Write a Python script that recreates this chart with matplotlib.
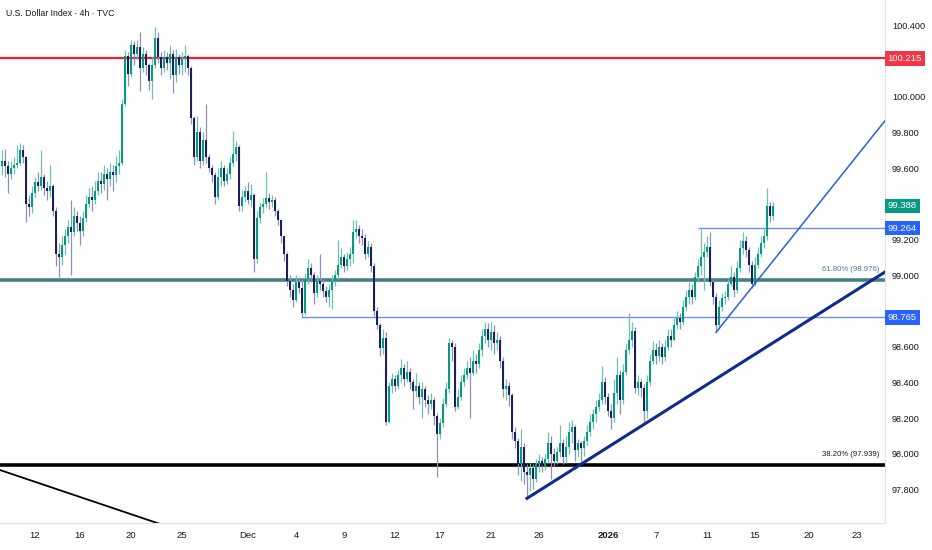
import matplotlib
matplotlib.use('Agg')
import matplotlib.pyplot as plt
import matplotlib.transforms as mtransforms
import numpy as np

plt.rcParams['font.family'] = ['Liberation Sans', 'DejaVu Sans']

# 4h candles of the U.S. Dollar Index, open = previous close
first_open = 99.61
closes = [
    99.64, 99.61, 99.57, 99.60, 99.62, 99.63, 99.70, 99.66, 99.40, 99.38,
    99.46, 99.52, 99.50, 99.55, 99.49, 99.47, 99.50, 99.36, 99.12, 99.10,
    99.17, 99.22, 99.27, 99.24, 99.33, 99.29, 99.25, 99.32, 99.40, 99.44,
    99.42, 99.47, 99.53, 99.51, 99.57, 99.54, 99.58, 99.56, 99.61, 99.63,
    99.96, 100.23, 100.13, 100.29, 100.24, 100.28, 100.16, 100.24, 100.18, 100.09,
    100.18, 100.33, 100.22, 100.16, 100.22, 100.19, 100.24, 100.12, 100.22, 100.18,
    100.21, 100.23, 100.16, 99.88, 99.66, 99.80, 99.64, 99.76, 99.66, 99.60,
    99.56, 99.44, 99.55, 99.60, 99.53, 99.57, 99.63, 99.68, 99.72, 99.39,
    99.44, 99.47, 99.42, 99.45, 99.09, 99.32, 99.38, 99.40, 99.43, 99.41,
    99.42, 99.36, 99.31, 99.22, 99.12, 98.97, 98.92, 98.86, 98.96, 98.93,
    98.79, 98.98, 99.04, 99.00, 98.90, 98.97, 98.95, 98.91, 98.88, 98.92,
    98.97, 99.00, 99.06, 99.10, 99.05, 99.09, 99.12, 99.24, 99.26, 99.22,
    99.21, 99.12, 99.16, 99.05, 98.80, 98.72, 98.59, 98.65, 98.18, 98.38,
    98.42, 98.38, 98.44, 98.48, 98.42, 98.46, 98.40, 98.35, 98.38, 98.32,
    98.36, 98.30, 98.28, 98.30, 98.21, 98.11, 98.17, 98.28, 98.36, 98.62,
    98.60, 98.26, 98.32, 98.40, 98.44, 98.48, 98.45, 98.52, 98.50, 98.58,
    98.66, 98.70, 98.64, 98.68, 98.62, 98.64, 98.52, 98.36, 98.38, 98.33,
    98.12, 98.07, 97.94, 98.04, 97.90, 97.88, 97.92, 97.86, 97.94, 97.96,
    97.93, 97.97, 98.06, 98.00, 97.96, 98.01, 98.06, 97.98, 98.04, 98.12,
    98.15, 98.02, 98.06, 98.03, 98.07, 98.12, 98.18, 98.22, 98.26, 98.30,
    98.40, 98.32, 98.24, 98.20, 98.34, 98.44, 98.30, 98.46, 98.58, 98.64,
    98.69, 98.37, 98.40, 98.37, 98.24, 98.40, 98.52, 98.58, 98.55, 98.60,
    98.54, 98.60, 98.66, 98.64, 98.72, 98.76, 98.74, 98.82, 98.88, 98.92,
    98.88, 98.99, 99.05, 99.10, 99.13, 99.16, 98.96, 98.88, 98.72, 98.82,
    98.87, 98.88, 98.95, 98.99, 98.92, 99.04, 99.15, 99.19, 99.14, 99.06,
    98.95, 99.06, 99.12, 99.18, 99.22, 99.39, 99.33, 99.388,
]
highs = [
    99.70, 99.71, 99.64, 99.64, 99.66, 99.73, 99.74, 99.73, 99.67, 99.45,
    99.50, 99.55, 99.58, 99.70, 99.57, 99.53, 99.62, 99.51, 99.38, 99.18,
    99.22, 99.26, 99.31, 99.42, 99.38, 99.36, 99.33, 99.36, 99.45, 99.49,
    99.50, 99.53, 99.58, 99.58, 99.62, 99.60, 99.63, 99.62, 99.67, 99.70,
    99.99, 100.26, 100.25, 100.32, 100.31, 100.32, 100.36, 100.28, 100.26, 100.19,
    100.22, 100.39, 100.36, 100.25, 100.26, 100.25, 100.29, 100.26, 100.27, 100.24,
    100.25, 100.29, 100.24, 100.17, 99.89, 99.89, 99.83, 99.80, 99.96, 99.68,
    99.62, 99.58, 99.60, 99.64, 99.62, 99.60, 99.66, 99.81, 99.75, 99.73,
    99.48, 99.50, 99.52, 99.51, 99.46, 99.36, 99.41, 99.43, 99.58, 99.46,
    99.45, 99.44, 99.37, 99.30, 99.22, 99.13, 99.00, 98.95, 99.00, 98.99,
    98.98, 99.01, 99.09, 99.07, 99.02, 99.00, 99.12, 98.98, 98.94, 98.95,
    99.00, 99.03, 99.20, 99.15, 99.12, 99.13, 99.16, 99.31, 99.31, 99.28,
    99.26, 99.23, 99.19, 99.18, 99.07, 98.82, 98.73, 98.70, 98.68, 98.40,
    98.45, 98.44, 98.47, 98.53, 98.50, 98.52, 98.48, 98.42, 98.45, 98.40,
    98.40, 98.38, 98.33, 98.34, 98.32, 98.23, 98.20, 98.31, 98.40, 98.65,
    98.64, 98.62, 98.36, 98.44, 98.48, 98.52, 98.54, 98.58, 98.56, 98.62,
    98.70, 98.74, 98.73, 98.74, 98.72, 98.68, 98.66, 98.54, 98.42, 98.40,
    98.34, 98.15, 98.09, 98.14, 98.06, 97.94, 97.95, 97.94, 97.97, 98.00,
    97.98, 98.00, 98.12, 98.10, 98.03, 98.04, 98.16, 98.08, 98.10, 98.18,
    98.19, 98.16, 98.08, 98.07, 98.10, 98.16, 98.22, 98.25, 98.30, 98.34,
    98.49, 98.43, 98.34, 98.28, 98.42, 98.54, 98.47, 98.50, 98.62, 98.79,
    98.74, 98.71, 98.44, 98.42, 98.39, 98.44, 98.56, 98.63, 98.62, 98.64,
    98.62, 98.64, 98.70, 98.70, 98.76, 98.80, 98.79, 98.86, 98.92, 98.96,
    98.95, 99.02, 99.09, 99.26, 99.18, 99.22, 99.24, 98.98, 98.90, 98.86,
    98.90, 98.91, 98.98, 99.05, 99.02, 99.08, 99.20, 99.24, 99.22, 99.16,
    99.08, 99.10, 99.16, 99.22, 99.26, 99.49, 99.41, 99.41,
]
lows = [
    99.56, 99.55, 99.46, 99.54, 99.57, 99.60, 99.62, 99.63, 99.30, 99.33,
    99.35, 99.44, 99.47, 99.48, 99.45, 99.42, 99.44, 99.33, 99.05, 98.99,
    99.06, 99.12, 99.18, 99.00, 99.22, 99.25, 99.17, 99.22, 99.30, 99.38,
    99.36, 99.40, 99.45, 99.46, 99.48, 99.42, 99.50, 99.47, 99.52, 99.57,
    99.62, 99.95, 100.06, 100.11, 100.18, 100.21, 100.03, 100.14, 100.12, 100.04,
    99.99, 100.16, 100.19, 100.12, 100.14, 100.15, 100.10, 100.02, 100.08, 100.13,
    100.12, 100.14, 100.12, 99.85, 99.62, 99.64, 99.60, 99.62, 99.63, 99.58,
    99.52, 99.40, 99.42, 99.50, 99.50, 99.51, 99.54, 99.61, 99.64, 99.36,
    99.36, 99.41, 99.40, 99.38, 99.02, 99.07, 99.29, 99.35, 99.38, 99.37,
    99.38, 99.33, 99.28, 99.18, 99.08, 98.94, 98.88, 98.82, 98.85, 98.90,
    98.76, 98.78, 98.95, 98.96, 98.84, 98.88, 98.92, 98.88, 98.85, 98.82,
    98.81, 98.94, 98.98, 99.04, 99.02, 99.03, 99.05, 99.07, 99.21, 99.18,
    99.17, 99.09, 99.10, 99.02, 98.77, 98.70, 98.55, 98.56, 98.16, 98.17,
    98.34, 98.35, 98.36, 98.40, 98.38, 98.40, 98.36, 98.25, 98.32, 98.28,
    98.20, 98.26, 98.22, 98.25, 98.16, 97.87, 98.08, 98.15, 98.26, 98.34,
    98.52, 98.24, 98.25, 98.30, 98.38, 98.42, 98.20, 98.44, 98.45, 98.48,
    98.55, 98.62, 98.60, 98.58, 98.56, 98.58, 98.48, 98.32, 98.30, 98.27,
    98.08, 98.03, 97.88, 97.85, 97.83, 97.76, 97.79, 97.80, 97.84, 97.90,
    97.90, 97.91, 97.95, 97.86, 97.93, 97.94, 97.98, 97.94, 97.95, 98.00,
    98.06, 97.96, 97.98, 97.96, 97.99, 98.05, 98.10, 98.14, 98.18, 98.24,
    98.28, 98.28, 98.21, 98.14, 98.18, 98.28, 98.22, 98.28, 98.44, 98.56,
    98.60, 98.34, 98.33, 98.32, 98.18, 98.20, 98.38, 98.50, 98.50, 98.52,
    98.50, 98.52, 98.58, 98.60, 98.63, 98.70, 98.70, 98.72, 98.80, 98.84,
    98.84, 98.86, 98.96, 99.00, 98.92, 99.10, 98.94, 98.84, 98.68, 98.70,
    98.80, 98.84, 98.86, 98.94, 98.88, 98.90, 99.02, 99.12, 99.10, 99.02,
    98.93, 98.94, 99.04, 99.10, 99.15, 99.20, 99.30, 99.31,
]

# date labels on the time axis and the bar each one sits on
tick_labels = ['12', '16', '20', '25', 'Dec', '4', '9', '12', '17', '21', '26',
               '2026', '7', '11', '15', '20', '23']
tick_bars = [11, 26, 43, 60, 82, 98, 114, 131, 146, 163, 179, 202, 218, 235, 251, 269, 285]

# scale labels left visible (100.2, 99.4 and 98.8 sit under the price tags)
price_ticks = [97.8, 98.0, 98.2, 98.4, 98.6, 99.0, 99.2, 99.6, 99.8, 100.0, 100.4]

# drawn levels
resistance = 100.215
fib_618 = 98.976
fib_382 = 97.939
level_hi = 99.264
level_lo = 98.765
last_price = 99.388
level_hi_start = 232
level_lo_start = 100

# trend lines as (bar, price) end points
steep_trend = [(238, 98.68), (294.4, 99.867)]
main_trend = [(175, 97.75), (294.4, 99.019)]
down_trend = [(-0.7, 97.909), (60, 97.565)]

UP = '#089981'
DOWN = '#1c1f5e'
UP_WICK = '#6cc3a8'
DOWN_WICK = '#8e90b8'

fig = plt.figure(figsize=(9.32, 5.5), dpi=100)
ax = fig.add_axes([0, 27 / 550, 885 / 932, 523 / 550])

c = np.array(closes)
o = np.concatenate([[first_open], c[:-1]])
h = np.maximum(np.array(highs), np.maximum(o, c))
l = np.minimum(np.array(lows), np.minimum(o, c))
x = np.arange(len(c))
up = c >= o

ax.vlines(x[up], l[up], h[up], color=UP_WICK, lw=0.9, zorder=3)
ax.vlines(x[~up], l[~up], h[~up], color=DOWN_WICK, lw=0.9, zorder=3)
body = np.maximum(np.abs(c - o), 0.008)
ax.bar(x[up], body[up], bottom=np.minimum(o, c)[up], width=0.68, color=UP, lw=0, zorder=4)
ax.bar(x[~up], body[~up], bottom=np.minimum(o, c)[~up], width=0.68, color=DOWN, lw=0, zorder=4)

# horizontal levels
ax.axhline(resistance, color='#e5222e', lw=1.6, zorder=2)
ax.axhline(fib_618, color='#467f88', lw=2.6, zorder=2)
ax.axhline(fib_382, color='black', lw=2.6, zorder=2)
ax.hlines(level_hi, level_hi_start, 300, color='#6b90e6', lw=1.0, zorder=2)
ax.hlines(level_lo, level_lo_start, 300, color='#6b90e6', lw=1.0, zorder=2)

# trend lines
ax.plot(*zip(*steep_trend), color='#2a5fdc', lw=1.1, zorder=5)
ax.plot(*zip(*main_trend), color='#0f2b8c', lw=2.2, zorder=5)
ax.plot(*zip(*down_trend), color='black', lw=1.3, zorder=5)

ax.set_xlim(-0.67, 294.33)
ax.set_ylim(97.612, 100.542)

# fib labels
ax.text(292.5, fib_618 + 0.035, '61.80% (98.976)', ha='right', va='bottom',
        fontsize=5.6, color='#467f88', zorder=6)
ax.text(292.5, fib_382 + 0.035, '38.20% (97.939)', ha='right', va='bottom',
        fontsize=5.6, color='#131722', zorder=6)

# axes styling
for side in ['top', 'left']:
    ax.spines[side].set_visible(False)
ax.spines['right'].set_color('#e0e3eb')
ax.spines['bottom'].set_color('#e0e3eb')
ax.yaxis.tick_right()
ax.set_yticks(price_ticks)
ax.set_yticklabels([f'{p:.3f}' for p in price_ticks])
ax.tick_params(axis='y', length=0, pad=5, labelsize=6.6, labelcolor='#131722')
ax.set_xticks(tick_bars)
ax.set_xticklabels(tick_labels)
ax.tick_params(axis='x', length=0, pad=6, labelsize=6.8, labelcolor='#131722')
for lab in ax.get_xticklabels():
    if lab.get_text() == '2026':
        lab.set_fontweight('bold')

# price tags on the scale
trans = mtransforms.blended_transform_factory(ax.transAxes, ax.transData)
tags = [(resistance, '#f23645'), (last_price, '#089981'), (level_hi, '#2962ff'), (level_lo, '#2962ff')]
for price, col in tags:
    ax.text(1.003, price, f'{price:.3f}', transform=trans, ha='left', va='center',
            fontsize=6.8, color='white', zorder=20, clip_on=False,
            bbox=dict(boxstyle='square,pad=0.3', fc=col, ec='none'))

fig.text(6 / 932, 1 - 13 / 550, 'U.S. Dollar Index · 4h · TVC', ha='left', va='center',
         fontsize=6.3, color='#131722')

fig.savefig('out.png', dpi=100, facecolor='white')
